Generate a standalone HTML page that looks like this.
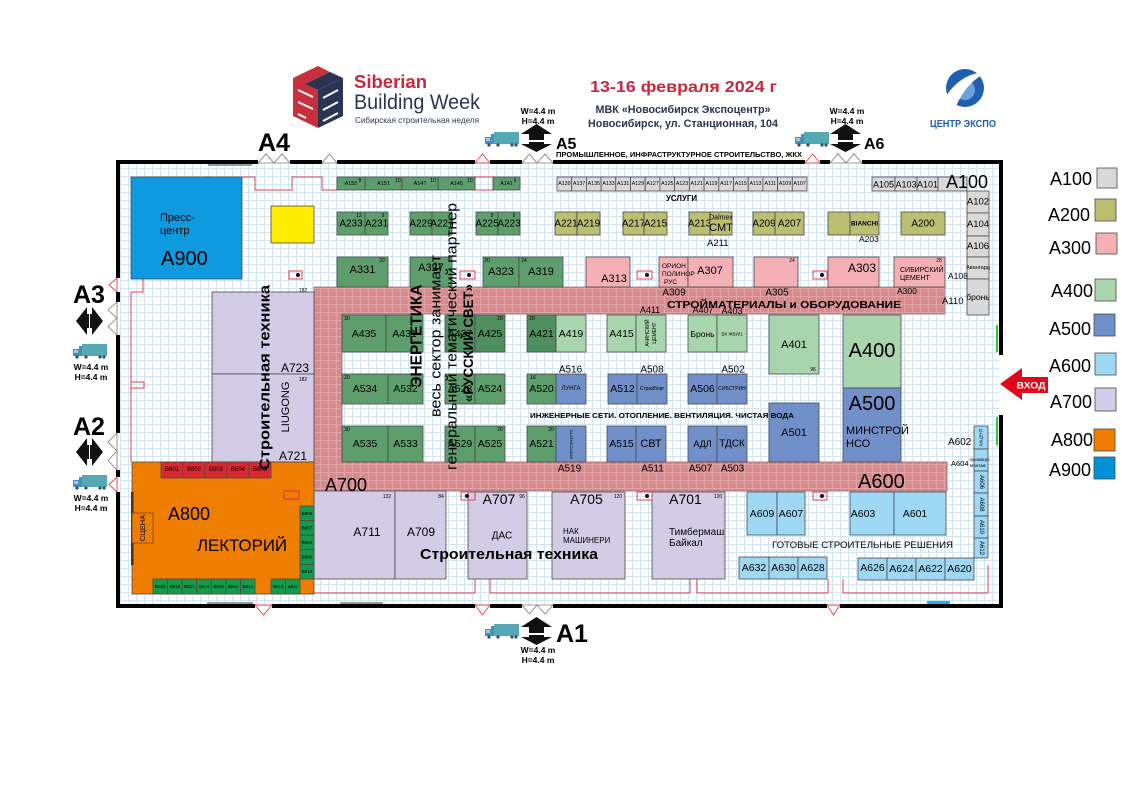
<!DOCTYPE html>
<html><head><meta charset="utf-8"><style>
html,body{margin:0;padding:0;background:#fff;}
svg{display:block;font-family:"Liberation Sans",Arial,sans-serif;}
.k{stroke:#4a4a4a;stroke-width:.8}
.G{fill:#5e9e6d}.DG{fill:#4f8f60}.LG{fill:#a9d5ae}.B{fill:#7190c9}.P{fill:#f4b0b4}.O{fill:#bbbf72}.Y{fill:#d9d9d9}.LB{fill:#9fd8f4}.LV{fill:#d2cce6}
.m text{text-anchor:middle;dominant-baseline:central}
.r{fill:none;stroke:#e0404e;stroke-width:1}
</style></head><body>
<svg width="1122" height="794" viewBox="0 0 1122 794">
<defs>
<pattern id="gr" width="8" height="8" patternUnits="userSpaceOnUse"><rect width="8" height="8" fill="#fff"/><path d="M0 .5H8M.5 0V8" stroke="#d3e4f5" stroke-width="1" fill="none"/></pattern>
<pattern id="pg" width="8" height="8" patternUnits="userSpaceOnUse"><rect width="8" height="8" fill="#d88b8f"/><path d="M0 .5H8M.5 0V8" stroke="#e2a3a6" stroke-width="1" fill="none"/></pattern>
<g id="truck"><rect x="9" y="0" width="25" height="12" fill="#55a9b5"/><path d="M0 5H6V2H9V12H0Z" fill="#4a8fb5"/><rect x="1" y="6" width="4" height="3" fill="#9cd"/><circle cx="4" cy="13" r="1.6" fill="#2d4a7a"/><circle cx="13" cy="13" r="1.6" fill="#2d4a7a"/><circle cx="27" cy="13" r="1.6" fill="#2d4a7a"/><circle cx="31" cy="13" r="1.6" fill="#2d4a7a"/></g>
<g id="ud"><path d="M0 10L15.5 0L31 10H23V16H8V10Z M8 18H23V20H31L15.5 28L0 20H8Z" fill="#111"/></g>
<g id="lr"><path d="M0 14L11 0V7H13V21H11V28Z M27 14L16 0V7H14V21H16V28Z" fill="#111"/></g>
</defs>

<!-- HEADER -->
<polygon points="293,78 318,90 318,128 293,116" fill="#c9303e"/>
<polygon points="318,90 343,78 343,116 318,128" fill="#2b3553"/>
<polygon points="293,78 318,66 330,72 305,84" fill="#c9303e"/>
<polygon points="305,84 330,72 343,78 318,90" fill="#2b3553"/>
<path d="M298,90 L313,97 M298,102 L313,109 M298,114 L306,118" stroke="#fff" stroke-width="2"/>
<path d="M323,98 L338,90 M323,110 L338,102 M323,121 L338,113" stroke="#fff" stroke-width="2"/>
<text x="354" y="88" font-size="18" font-weight="bold" fill="#c8283c" textLength="73" lengthAdjust="spacingAndGlyphs">Siberian</text>
<text x="354" y="109" font-size="21" fill="#2b3553" textLength="126" lengthAdjust="spacingAndGlyphs">Building Week</text>
<text x="355" y="123" font-size="8.5" fill="#2b3553" textLength="124" lengthAdjust="spacingAndGlyphs">Сибирская строительная неделя</text>
<text x="590" y="92" font-size="16" font-weight="bold" fill="#c8283c" textLength="187" lengthAdjust="spacingAndGlyphs">13-16 февраля 2024 г</text>
<text x="683" y="113" font-size="11" font-weight="bold" fill="#2b3553" text-anchor="middle" textLength="175" lengthAdjust="spacingAndGlyphs">МВК «Новосибирск Экспоцентр»</text>
<text x="683" y="127" font-size="11" font-weight="bold" fill="#2b3553" text-anchor="middle" textLength="190" lengthAdjust="spacingAndGlyphs">Новосибирск, ул. Станционная, 104</text>
<circle cx="965" cy="88" r="19" fill="#1f5fae"/>
<circle cx="965" cy="90" r="10" fill="#6aa3dc"/>
<path d="M946,96 Q962,72 988,72 Q968,80 956,106 Z" fill="#fff"/>
<text x="963" y="127" font-size="10" font-weight="bold" fill="#1f5fae" text-anchor="middle" textLength="66" lengthAdjust="spacingAndGlyphs">ЦЕНТР ЭКСПО</text>

<!-- gates labels -->
<text x="258" y="151" font-size="25" font-weight="bold">A4</text>
<g font-size="8.5" font-weight="bold" text-anchor="middle">
<text x="538" y="114">W=4.4 m</text><text x="538" y="124">H=4.4 m</text>
<text x="847" y="114">W=4.4 m</text><text x="847" y="124">H=4.4 m</text>
<text x="538" y="653">W=4.4 m</text><text x="538" y="663">H=4.4 m</text>
<text x="91" y="370">W=4.4 m</text><text x="91" y="380">H=4.4 m</text>
<text x="91" y="501">W=4.4 m</text><text x="91" y="511">H=4.4 m</text>
</g>
<use href="#truck" x="485" y="132"/><use href="#ud" x="521" y="124"/>
<text x="556" y="149" font-size="16" font-weight="bold">A5</text>
<use href="#truck" x="795" y="132"/><use href="#ud" x="830" y="124"/>
<text x="864" y="149" font-size="16" font-weight="bold">A6</text>
<use href="#truck" x="485" y="624"/><use href="#ud" x="521" y="617"/>
<text x="556" y="642" font-size="25" font-weight="bold">A1</text>
<text x="73" y="303" font-size="25" font-weight="bold">A3</text>
<use href="#lr" x="76" y="307"/><use href="#truck" x="73" y="344"/>
<text x="73" y="435" font-size="25" font-weight="bold">A2</text>
<use href="#lr" x="76" y="438"/><use href="#truck" x="73" y="475"/>
<text x="556" y="157" font-size="7.5" font-weight="bold" textLength="246" lengthAdjust="spacingAndGlyphs">ПРОМЫШЛЕННОЕ, ИНФРАСТРУКТУРНОЕ СТРОИТЕЛЬСТВО, ЖКХ</text>

<!-- HALL -->
<rect x="120" y="164" width="879" height="440" fill="url(#gr)"/>

<!-- red outlines -->
<path class="r" d="M242 177H255V190H292V177H322V190H337"/>
<rect class="r" x="475" y="177" width="18" height="13"/>
<rect class="r" x="204" y="177" width="8" height="14"/>
<path class="r" d="M143 279V292H131V462M131 382H144V388H131"/>
<path class="r" d="M314 593H475V579M490 579V593H690V579M697 579V593H828V579M843 579V593H988V565"/>

<!-- A900 -->
<rect x="131" y="177" width="111" height="102" fill="#0f9ae0" class="k"/>
<text x="160" y="221" font-size="11">Пресс-</text>
<text x="160" y="234" font-size="11">центр</text>
<text x="161" y="265" font-size="20">A900</text>
<rect x="271" y="206" width="43" height="37" fill="#ffed00" class="k"/>

<!-- pink strip -->
<path d="M314 287H945V314H342V462H947V491H314Z" fill="url(#pg)" stroke="#8a6a6a" stroke-width=".8"/>

<g class="m">
<!-- top row green -->
<rect class="k G" x="337" y="177" width="28" height="13"/><text x="351" y="184" font-size="5.5">A155</text>
<rect class="k G" x="365" y="177" width="37" height="13"/><text x="383.5" y="184" font-size="5.5">A151</text>
<rect class="k G" x="402" y="177" width="36" height="13"/><text x="420" y="184" font-size="5.5">A147</text>
<rect class="k G" x="438" y="177" width="37" height="13"/><text x="456.5" y="184" font-size="5.5">A145</text>
<rect class="k G" x="493" y="177" width="27" height="13"/><text x="506.5" y="184" font-size="5.5">A141</text>
<!-- gray row -->
<g font-size="5.3">
<rect class="k Y" x="557" y="177" width="14.7" height="14"/><text x="564.4" y="184">A139</text>
<rect class="k Y" x="571.7" y="177" width="14.7" height="14"/><text x="579.1" y="184">A137</text>
<rect class="k Y" x="586.4" y="177" width="14.7" height="14"/><text x="593.8" y="184">A135</text>
<rect class="k Y" x="601.1" y="177" width="14.7" height="14"/><text x="608.5" y="184">A133</text>
<rect class="k Y" x="615.8" y="177" width="14.7" height="14"/><text x="623.2" y="184">A131</text>
<rect class="k Y" x="630.5" y="177" width="14.7" height="14"/><text x="637.9" y="184">A129</text>
<rect class="k Y" x="645.2" y="177" width="14.7" height="14"/><text x="652.6" y="184">A127</text>
<rect class="k Y" x="659.9" y="177" width="14.7" height="14"/><text x="667.3" y="184">A125</text>
<rect class="k Y" x="674.6" y="177" width="14.7" height="14"/><text x="682" y="184">A123</text>
<rect class="k Y" x="689.4" y="177" width="14.7" height="14"/><text x="696.7" y="184">A121</text>
<rect class="k Y" x="704.1" y="177" width="14.7" height="14"/><text x="711.4" y="184">A119</text>
<rect class="k Y" x="718.8" y="177" width="14.7" height="14"/><text x="726.1" y="184">A117</text>
<rect class="k Y" x="733.5" y="177" width="14.7" height="14"/><text x="740.8" y="184">A115</text>
<rect class="k Y" x="748.2" y="177" width="14.7" height="14"/><text x="755.5" y="184">A113</text>
<rect class="k Y" x="762.9" y="177" width="14.7" height="14"/><text x="770.3" y="184">A111</text>
<rect class="k Y" x="777.6" y="177" width="14.7" height="14"/><text x="785" y="184">A109</text>
<rect class="k Y" x="792.3" y="177" width="14.7" height="14"/><text x="799.6" y="184">A107</text>
</g>
<rect class="k Y" x="872" y="177" width="23" height="14"/><text x="883.5" y="184.5" font-size="9">A105</text>
<rect class="k Y" x="895" y="177" width="22" height="14"/><text x="906" y="184.5" font-size="9">A103</text>
<rect class="k Y" x="917" y="177" width="21" height="14"/><text x="927.5" y="184.5" font-size="9">A101</text>
<rect class="k Y" x="938" y="177" width="29" height="14"/>
<rect class="k Y" x="967" y="191" width="22" height="22"/><text x="978" y="202" font-size="9.5">A102</text>
<rect class="k Y" x="967" y="213" width="22" height="23"/><text x="978" y="224.5" font-size="9.5">A104</text>
<rect class="k Y" x="967" y="236" width="22" height="21"/><text x="978" y="246.5" font-size="9.5">A106</text>
<rect class="k Y" x="967" y="257" width="22" height="22"/><text x="978" y="268" font-size="5.5">Авангард</text>
<rect class="k Y" x="967" y="279" width="22" height="36"/><text x="978" y="297" font-size="8.5">бронь</text>

<!-- row 2 -->
<g font-size="10">
<rect class="k G" x="337" y="212" width="28" height="23"/><text x="351" y="224">A233</text>
<rect class="k G" x="365" y="212" width="23" height="23"/><text x="376.5" y="224">A231</text>
<rect class="k G" x="410" y="212" width="22" height="23"/><text x="421" y="224">A229</text>
<rect class="k G" x="432" y="212" width="20" height="23"/><text x="442" y="224">A227</text>
<rect class="k G" x="476" y="212" width="22" height="23"/><text x="487" y="224">A225</text>
<rect class="k G" x="498" y="212" width="22" height="23"/><text x="509" y="224">A223</text>
<rect class="k O" x="555" y="212" width="22" height="23"/><text x="566" y="224">A221</text>
<rect class="k O" x="577" y="212" width="23" height="23"/><text x="588.5" y="224">A219</text>
<rect class="k O" x="623" y="212" width="21" height="23"/><text x="633.5" y="224">A217</text>
<rect class="k O" x="644" y="212" width="23" height="23"/><text x="655.5" y="224">A215</text>
<rect class="k O" x="689" y="212" width="21" height="23"/><text x="699.5" y="224">A213</text>
<rect class="k O" x="710" y="212" width="22" height="23"/>
<rect class="k O" x="753" y="212" width="22" height="23"/><text x="764" y="224">A209</text>
<rect class="k O" x="775" y="212" width="29" height="23"/><text x="789.5" y="224">A207</text>
<rect class="k O" x="828" y="212" width="22" height="23"/>
<rect class="k O" x="850" y="212" width="29" height="23"/>
<rect class="k O" x="901" y="212" width="44" height="23"/><text x="923" y="224">A200</text>
</g>
<text x="721" y="218" font-size="7">Dalmex</text>
<text x="721" y="228" font-size="11">CMT</text>
<text x="864.5" y="224" font-size="6.5" font-weight="bold">BIANCHI</text>

<!-- row 3 -->
<rect class="k G" x="337" y="257" width="51" height="30"/><text x="362.5" y="270" font-size="11">A331</text>
<rect class="k G" x="410" y="257" width="42" height="30"/><text x="431" y="268" font-size="11">A327</text>
<rect class="k G" x="483" y="257" width="36" height="30"/><text x="501" y="272" font-size="11">A323</text>
<rect class="k G" x="519" y="257" width="44" height="30"/><text x="541" y="272" font-size="11">A319</text>
<rect class="k P" x="586" y="257" width="44" height="30"/><text x="614" y="279" font-size="11">A313</text>
<rect class="k P" x="659" y="257" width="29" height="30"/>
<rect class="k P" x="688" y="257" width="45" height="30"/><text x="710" y="271" font-size="11">A307</text>
<rect class="k P" x="754" y="257" width="44" height="30"/>
<rect class="k P" x="828" y="257" width="51" height="30"/><text x="862" y="268" font-size="12">A303</text>
<rect class="k P" x="894" y="257" width="51" height="30"/>

<!-- A400 row -->
<g font-size="10.5">
<rect class="k G" x="342" y="315" width="44" height="37"/><text x="364" y="334">A435</text>
<rect class="k G" x="386" y="315" width="37" height="37"/><text x="404.5" y="334">A431</text>
<rect class="k DG" x="445" y="315" width="30" height="37"/><text x="460" y="334">A427</text>
<rect class="k DG" x="475" y="315" width="30" height="37"/><text x="490" y="334">A425</text>
<rect class="k DG" x="527" y="315" width="29" height="37"/><text x="541.5" y="334">A421</text>
<rect class="k LG" x="556" y="315" width="30" height="37"/><text x="571" y="334">A419</text>
<rect class="k LG" x="607" y="315" width="29" height="37"/><text x="621.5" y="334">A415</text>
<rect class="k LG" x="636" y="315" width="30" height="37"/>
<rect class="k LG" x="688" y="315" width="29" height="37"/><text x="702.5" y="334" font-size="8.5">Бронь</text>
<rect class="k LG" x="717" y="315" width="30" height="37"/><text x="732" y="334" font-size="4.5">БК ЖБИ/1</text>
<rect class="k LG" x="769" y="315" width="50" height="59"/><text x="794" y="345" font-size="11">A401</text>
<rect class="k LG" x="843" y="315" width="58" height="73"/><text x="872" y="351" font-size="20">A400</text>
<!-- A500 row -->
<rect class="k G" x="342" y="374" width="46" height="30"/><text x="365" y="389">A534</text>
<rect class="k G" x="388" y="374" width="35" height="30"/><text x="405.5" y="389">A532</text>
<rect class="k G" x="445" y="374" width="30" height="30"/><text x="460" y="389">A528</text>
<rect class="k G" x="475" y="374" width="30" height="30"/><text x="490" y="389">A524</text>
<rect class="k G" x="527" y="374" width="29" height="30"/><text x="541.5" y="389">A520</text>
<rect class="k B" x="556" y="374" width="30" height="30"/><text x="571" y="389" font-size="6">ЛУНГА</text>
<rect class="k B" x="608" y="374" width="29" height="30"/><text x="622.5" y="389">A512</text>
<rect class="k B" x="637" y="374" width="30" height="30"/><text x="652" y="389" font-size="5">Стройборг</text>
<rect class="k B" x="688" y="374" width="29" height="30"/><text x="702.5" y="389">A506</text>
<rect class="k B" x="717" y="374" width="30" height="30"/><text x="732" y="389" font-size="5">СИБСТРИН</text>
<rect class="k B" x="843" y="388" width="58" height="74"/><text x="872" y="404" font-size="20">A500</text>
<!-- row 3 -->
<rect class="k G" x="342" y="426" width="46" height="36"/><text x="365" y="444">A535</text>
<rect class="k G" x="388" y="426" width="35" height="36"/><text x="405.5" y="444">A533</text>
<rect class="k G" x="445" y="426" width="30" height="36"/><text x="460" y="444">A529</text>
<rect class="k G" x="475" y="426" width="30" height="36"/><text x="490" y="444">A525</text>
<rect class="k G" x="527" y="426" width="29" height="36"/><text x="541.5" y="444">A521</text>
<rect class="k B" x="556" y="426" width="30" height="36"/>
<rect class="k B" x="607" y="426" width="29" height="36"/><text x="621.5" y="444">A515</text>
<rect class="k B" x="636" y="426" width="30" height="36"/><text x="651" y="444" font-size="11">СВТ</text>
<rect class="k B" x="688" y="426" width="29" height="36"/><text x="702.5" y="444" font-size="9">АДЛ</text>
<rect class="k B" x="717" y="426" width="30" height="36"/><text x="732" y="444" font-size="10">ТДСК</text>
<rect class="k B" x="769" y="403" width="50" height="59"/><text x="794" y="433" font-size="11">A501</text>
</g>
<text transform="translate(571,444) rotate(-90)" font-size="4">ВОЛГОЭНЕРГО</text>
<text transform="translate(648,333) rotate(-90)" font-size="5">АЧИНСКИЙ</text>
<text transform="translate(655,333) rotate(-90)" font-size="5">ЦЕМЕНТ</text>

<!-- A600 column right -->
<rect class="k LB" x="974" y="426" width="14" height="23"/><text transform="translate(981,437.5) rotate(-90)" font-size="4.5">АКЦЕНТ</text>
<rect class="k LB" x="974" y="449" width="14" height="22"/>
<rect class="k LB" x="974" y="471" width="14" height="22"/><text transform="translate(981,482) rotate(90)" font-size="6">A606</text>
<rect class="k LB" x="974" y="493" width="14" height="23"/><text transform="translate(981,504.5) rotate(90)" font-size="6">A608</text>
<rect class="k LB" x="974" y="516" width="14" height="22"/><text transform="translate(981,527) rotate(90)" font-size="6">A610</text>
<rect class="k LB" x="974" y="538" width="14" height="20"/><text transform="translate(981,548) rotate(90)" font-size="6">A612</text>

<!-- A700 -->
<rect class="k LV" x="212" y="292" width="102" height="82"/>
<rect class="k LV" x="212" y="374" width="102" height="88"/>
<g font-size="10.5">
<rect class="k LV" x="314" y="491" width="81" height="88"/><text x="367" y="532" font-size="12">A711</text>
<rect class="k LV" x="395" y="491" width="51" height="88"/><text x="421" y="532" font-size="12">A709</text>
<rect class="k LV" x="468" y="492" width="59" height="87"/><text x="499" y="499" font-size="14">A707</text>
<text x="502" y="536" font-size="10">ДАС</text>
<rect class="k LV" x="552" y="492" width="73" height="87"/><text x="586.5" y="499" font-size="14">A705</text>
<rect class="k LV" x="652" y="492" width="73" height="87"/><text x="685.5" y="499" font-size="14">A701</text>
<!-- A600 -->
<rect class="k LB" x="747" y="492" width="30" height="43"/><text x="762" y="514">A609</text>
<rect class="k LB" x="777" y="492" width="28" height="43"/><text x="791" y="514">A607</text>
<rect class="k LB" x="850" y="492" width="44" height="43"/><text x="863" y="514">A603</text>
<rect class="k LB" x="894" y="492" width="52" height="43"/><text x="915" y="514">A601</text>
<rect class="k LB" x="739" y="557" width="30" height="22"/><text x="754" y="568">A632</text>
<rect class="k LB" x="769" y="557" width="29" height="22"/><text x="783.5" y="568">A630</text>
<rect class="k LB" x="798" y="557" width="29" height="22"/><text x="812.5" y="568">A628</text>
<rect class="k LB" x="858" y="558" width="29" height="22"/><text x="872.5" y="568">A626</text>
<rect class="k LB" x="887" y="558" width="29" height="22"/><text x="901.5" y="569">A624</text>
<rect class="k LB" x="916" y="558" width="29" height="22"/><text x="930.5" y="569">A622</text>
<rect class="k LB" x="945" y="558" width="29" height="22"/><text x="959.5" y="569">A620</text>
</g>

<!-- A800 -->
<rect x="132" y="462" width="182" height="132" fill="#ef7d00" class="k"/>
<rect x="131" y="492" width="2.5" height="73" fill="#4a3020"/>
<rect x="132" y="513" width="21" height="30" fill="#ef7d00" stroke="#7a4a10" stroke-width=".8"/>
<text transform="translate(142.5,528) rotate(-90)" font-size="7.5">СЦЕНА</text>
<rect x="284" y="491" width="15" height="8" fill="none" stroke="#e0303e"/>
<g font-size="6">
<rect x="161" y="462" width="22" height="16" fill="#d9282f" class="k"/><text x="172" y="470">B801</text>
<rect x="183" y="462" width="22" height="16" fill="#d9282f" class="k"/><text x="194" y="470">B802</text>
<rect x="205" y="462" width="22" height="16" fill="#d9282f" class="k"/><text x="216" y="470">B803</text>
<rect x="227" y="462" width="22" height="16" fill="#d9282f" class="k"/><text x="238" y="470">B804</text>
<rect x="249" y="462" width="22" height="16" fill="#d9282f" class="k"/><text x="260" y="470">B805</text>
</g>
<g font-size="4.5">
<rect x="300" y="506" width="14" height="14.6" fill="#15994a" class="k"/><text x="307" y="513.3">B806</text>
<rect x="300" y="520.6" width="14" height="14.6" fill="#15994a" class="k"/><text x="307" y="527.9">B807</text>
<rect x="300" y="535.2" width="14" height="14.6" fill="#15994a" class="k"/><text x="307" y="542.5">B808</text>
<rect x="300" y="549.8" width="14" height="14.6" fill="#15994a" class="k"/><text x="307" y="557.1">B809</text>
<rect x="300" y="564.4" width="14" height="14.6" fill="#15994a" class="k"/><text x="307" y="571.7">B810</text>
<rect x="153" y="579" width="14.6" height="15" fill="#15994a" class="k"/><text x="160.3" y="586.5">B819</text>
<rect x="167.6" y="579" width="14.6" height="15" fill="#15994a" class="k"/><text x="174.9" y="586.5">B818</text>
<rect x="182.1" y="579" width="14.6" height="15" fill="#15994a" class="k"/><text x="189.4" y="586.5">B817</text>
<rect x="196.7" y="579" width="14.6" height="15" fill="#15994a" class="k"/><text x="204" y="586.5">B816</text>
<rect x="211.3" y="579" width="14.6" height="15" fill="#15994a" class="k"/><text x="218.6" y="586.5">B815</text>
<rect x="225.9" y="579" width="14.6" height="15" fill="#15994a" class="k"/><text x="233.2" y="586.5">B814</text>
<rect x="240.4" y="579" width="14.6" height="15" fill="#15994a" class="k"/><text x="247.7" y="586.5">B813</text>
<rect x="271" y="579" width="14.5" height="15" fill="#15994a" class="k"/><text x="278.2" y="586.5">B812</text>
<rect x="285.5" y="579" width="14.5" height="15" fill="#15994a" class="k"/><text x="292.7" y="586.5">B811</text>
</g>

<!-- strip labels -->
<g font-size="10">
<text x="674" y="293">A309</text>
<text x="777" y="293">A305</text>
<text x="650" y="310" font-size="9">A411</text>
<text x="703" y="310" font-size="9">A407</text>
<text x="732" y="311" font-size="9">A403</text>
<text x="570.5" y="370">A516</text>
<text x="652" y="370">A508</text>
<text x="733" y="370">A502</text>
<text x="569.5" y="469">A519</text>
<text x="652.5" y="469">A511</text>
<text x="700.5" y="469">A507</text>
<text x="732.5" y="469">A503</text>
</g>
<!-- small numbers -->
<g font-size="5">
<text x="360" y="181">8</text><text x="398" y="181">10</text><text x="433" y="181">10</text><text x="470" y="181">10</text><text x="515" y="181">6</text>
<text x="359" y="216">12</text><text x="383" y="216">9</text><text x="492" y="216">9</text><text x="514" y="216">9</text>
<text x="382" y="261">20</text><text x="487" y="261">20</text><text x="524" y="261">24</text><text x="792" y="261">24</text><text x="939" y="261">28</text>
<text x="347" y="319">30</text><text x="500" y="319">20</text><text x="532" y="319">20</text><text x="347" y="378">20</text><text x="533" y="378">16</text><text x="347" y="430">30</text><text x="500" y="430">20</text><text x="551" y="430">20</text>
<text x="813" y="370">96</text><text x="303" y="291">182</text><text x="303" y="380">182</text>
<text x="387" y="497">132</text><text x="441" y="497">84</text><text x="522" y="497">96</text><text x="618" y="497">120</text><text x="718" y="497">120</text>
</g>
</g>

<!-- free texts -->
<text x="946" y="188" font-size="18">A100</text>
<text x="666" y="201" font-size="8" font-weight="bold" textLength="31" lengthAdjust="spacingAndGlyphs">УСЛУГИ</text>
<text x="707" y="246" font-size="9.5">A211</text>
<text x="859" y="242" font-size="8.5">A203</text>
<text x="662" y="268" font-size="6.5">ОРИОН</text>
<text x="662" y="276" font-size="6.5">ПОЛИНОР</text>
<text x="664" y="284" font-size="6.5">РУС</text>
<text x="900" y="272" font-size="7">СИБИРСКИЙ</text>
<text x="900" y="280" font-size="7">ЦЕМЕНТ</text>
<text x="897" y="294" font-size="8.5">A300</text>
<text x="948" y="279" font-size="8.5">A108</text>
<text x="942" y="304" font-size="9.5">A110</text>
<text x="667" y="308" font-size="10.5" font-weight="bold" textLength="234" lengthAdjust="spacingAndGlyphs">СТРОЙМАТЕРИАЛЫ и ОБОРУДОВАНИЕ</text>
<text x="530" y="418" font-size="7.5" font-weight="bold" textLength="264" lengthAdjust="spacingAndGlyphs">ИНЖЕНЕРНЫЕ СЕТИ. ОТОПЛЕНИЕ. ВЕНТИЛЯЦИЯ. ЧИСТАЯ ВОДА</text>
<text x="846" y="434" font-size="11">МИНСТРОЙ</text>
<text x="846" y="447" font-size="11">НСО</text>
<text x="948" y="445" font-size="10">A602</text>
<text x="951" y="466" font-size="7.5">A604</text>
<text x="970" y="461" font-size="4.5">промагро</text>
<text x="970" y="467" font-size="4.5">монтаж</text>
<text x="325" y="491" font-size="18">A700</text>
<text x="858" y="488" font-size="20">A600</text>
<text x="281" y="372" font-size="12">A723</text>
<text x="279" y="460" font-size="12">A721</text>
<text x="563" y="534" font-size="8">НАК</text>
<text x="563" y="543" font-size="8">МАШИНЕРИ</text>
<text x="669" y="535" font-size="10">Тимбермаш</text>
<text x="669" y="546" font-size="10">Байкал</text>
<text x="772" y="548" font-size="9" textLength="181" lengthAdjust="spacingAndGlyphs">ГОТОВЫЕ СТРОИТЕЛЬНЫЕ РЕШЕНИЯ</text>
<text x="420" y="559" font-size="15" font-weight="bold" textLength="178" lengthAdjust="spacingAndGlyphs">Строительная техника</text>
<text x="168" y="520" font-size="18">A800</text>
<text x="197" y="551" font-size="17" textLength="90" lengthAdjust="spacingAndGlyphs">ЛЕКТОРИЙ</text>

<!-- vertical big texts -->
<g text-anchor="middle" dominant-baseline="central">
<text transform="translate(265,377.5) rotate(-90)" font-size="15" font-weight="bold" dominant-baseline="central" textLength="185" lengthAdjust="spacingAndGlyphs">Строительная техника</text>
<text transform="translate(286,407) rotate(-90)" font-size="11" dominant-baseline="central">LIUGONG</text>
<text transform="translate(417,336) rotate(-90)" font-size="16" font-weight="bold" dominant-baseline="central" textLength="103" lengthAdjust="spacingAndGlyphs">ЭНЕРГЕТИКА</text>
<text transform="translate(436,336) rotate(-90)" font-size="15" dominant-baseline="central" textLength="162" lengthAdjust="spacingAndGlyphs">весь сектор занимает</text>
<text transform="translate(452,336.5) rotate(-90)" font-size="15" dominant-baseline="central" textLength="267" lengthAdjust="spacingAndGlyphs">генеральный тематический партнер</text>
<text transform="translate(468,343) rotate(-90)" font-size="14" font-weight="bold" dominant-baseline="central" textLength="118" lengthAdjust="spacingAndGlyphs">«РУССКИЙ СВЕТ»</text>
</g>

<!-- fire boxes -->
<g fill="none" stroke="#e0404e" stroke-width="1">
<rect x="289" y="271" width="13" height="8"/><rect x="460" y="271" width="15" height="8"/><rect x="637" y="271" width="15" height="8"/><rect x="813" y="271" width="14" height="8"/>
<rect x="461" y="492" width="14" height="8"/><rect x="637" y="492" width="15" height="8"/><rect x="813" y="492" width="14" height="8"/>
</g>
<g fill="#111"><circle cx="298" cy="275" r="2"/><circle cx="469" cy="275" r="2"/><circle cx="647" cy="275" r="2"/><circle cx="822" cy="275" r="2"/><circle cx="467" cy="496" r="2"/><circle cx="647" cy="496" r="2"/><circle cx="822" cy="496" r="2"/></g>

<!-- WALLS -->
<g fill="#000">
<rect x="116" y="160" width="142" height="4"/><rect x="290" y="160" width="32" height="4"/><rect x="337" y="160" width="138" height="4"/><rect x="490" y="160" width="32" height="4"/><rect x="553" y="160" width="252" height="4"/><rect x="820" y="160" width="10" height="4"/><rect x="862" y="160" width="141" height="4"/>
<rect x="116" y="604" width="139" height="4"/><rect x="272" y="604" width="203" height="4"/><rect x="490" y="604" width="32" height="4"/><rect x="553" y="604" width="274" height="4"/><rect x="840" y="604" width="163" height="4"/>
<rect x="116" y="160" width="4" height="118"/><rect x="116" y="292" width="4" height="10"/><rect x="116" y="335" width="4" height="98"/><rect x="116" y="470" width="4" height="7"/><rect x="116" y="492" width="4" height="116"/>
<rect x="999" y="160" width="4" height="195"/><rect x="999" y="415" width="4" height="193"/>
</g>
<rect x="996" y="325" width="2" height="27" fill="#2ad02a"/><rect x="996" y="417" width="2" height="28" fill="#2ad02a"/>
<rect x="208" y="164" width="44" height="2" fill="#999"/><rect x="207" y="602" width="46" height="2" fill="#999"/><rect x="340" y="602" width="43" height="2" fill="#999"/><rect x="927" y="601" width="23" height="3" fill="#1ab0ef"/>
<g fill="#fff" stroke="#777" stroke-width=".8">
<path d="M258 163L266 154L274 163ZM274 163L282 154L290 163ZM322 163L329.5 154L337 163ZM522 163L529.5 154L537 163ZM537 163L545 154L553 163ZM830 163L838 154L846 163ZM846 163L854 154L862 163Z"/>
<path d="M522 605L529.5 614L537 605ZM537 605L545 614L553 605Z"/>
<path d="M117 302L108 310L117 318ZM117 318L108 326.5L117 335ZM117 433L108 442L117 451ZM117 451L108 460.5L117 470Z"/>
</g>
<g fill="#fff" stroke="#e0404e" stroke-width=".9">
<path d="M475 163L482.5 154L490 163ZM805 163L812.5 154L820 163Z"/>
<path d="M255 605L263.5 615L272 605ZM475 605L482.5 615L490 605ZM827 605L833.5 615L840 605Z"/>
<path d="M117 278L109 285L117 292ZM117 477L109 484.5L117 492Z"/>
</g>

<!-- entrance -->
<path d="M1000 384L1022 368V377H1048V393H1022V400Z" fill="#e3061b"/>
<text x="1031" y="388.5" font-size="9" font-weight="bold" fill="#fff" text-anchor="middle" textLength="29" lengthAdjust="spacingAndGlyphs">ВХОД</text>

<!-- legend -->
<g font-size="18" text-anchor="end">
<text x="1092" y="185">A100</text><rect x="1097" y="168" width="20" height="20" class="k Y"/>
<text x="1090" y="221">A200</text><rect x="1095" y="199" width="21" height="22" class="k O"/>
<text x="1091" y="254">A300</text><rect x="1096" y="233" width="21" height="21" class="k P"/>
<text x="1093" y="297">A400</text><rect x="1095" y="279" width="21" height="22" class="k LG"/>
<text x="1091" y="335">A500</text><rect x="1094" y="314" width="21" height="22" class="k B"/>
<text x="1091" y="372">A600</text><rect x="1095" y="353" width="21" height="22" class="k LB"/>
<text x="1092" y="408">A700</text><rect x="1095" y="388" width="21" height="23" class="k LV"/>
<text x="1093" y="446">A800</text><rect x="1094" y="429" width="21" height="22" fill="#ef7d00" class="k"/>
<text x="1091" y="476">A900</text><rect x="1094" y="457" width="21" height="22" fill="#0091d6" class="k"/>
</g>
</svg>
</body></html>
